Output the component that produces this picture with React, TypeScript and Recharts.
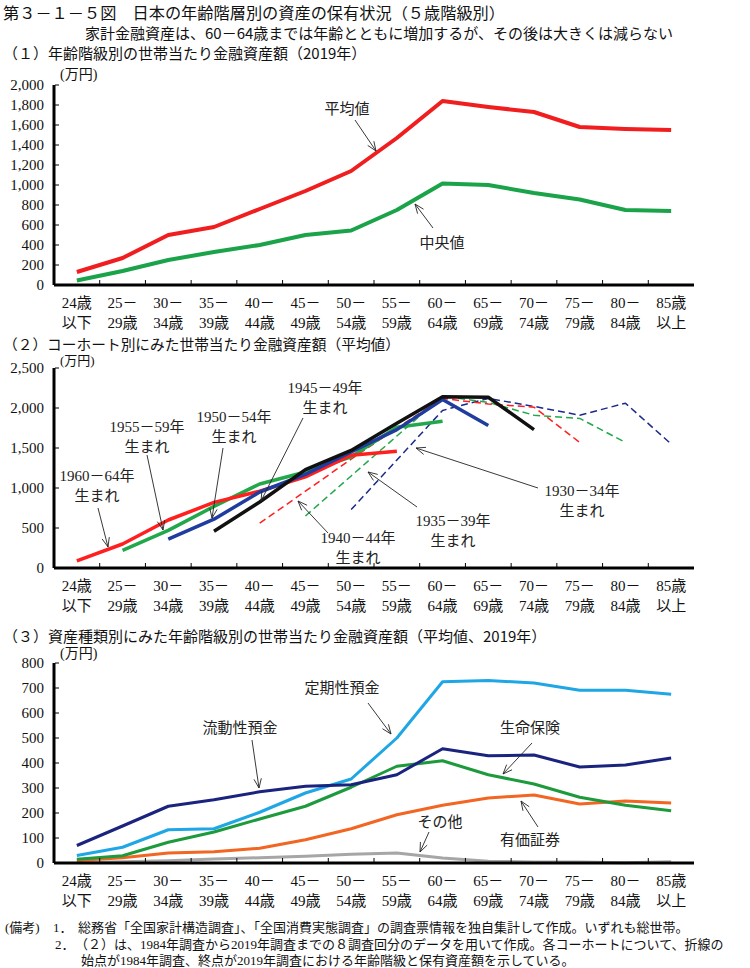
import React from 'react';
import { LineChart, Line, XAxis, YAxis } from 'recharts';

// ---------- categories ----------
const ageTop = ['24歳', '25－', '30－', '35－', '40－', '45－', '50－', '55－', '60－', '65－', '70－', '75－', '80－', '85歳'];
const ageBottom = ['以下', '29歳', '34歳', '39歳', '44歳', '49歳', '54歳', '59歳', '64歳', '69歳', '74歳', '79歳', '84歳', '以上'];

// ---------- (1) mean / median 2019 ----------
const meanAssets = [130, 270, 500, 580, 760, 940, 1140, 1470, 1840, 1780, 1730, 1580, 1560, 1550];
const medianAssets = [45, 140, 250, 330, 400, 500, 545, 750, 1015, 1000, 920, 855, 750, 740];
const ticks1 = [0, 200, 400, 600, 800, 1000, 1200, 1400, 1600, 1800, 2000];

// ---------- (2) cohorts ----------
const N = null;
const c1960 = [90, 300, 600, 820, 960, 1140, 1410, 1460, N, N, N, N, N, N];
const c1955 = [N, 220, 470, 770, 1050, 1200, 1390, 1760, 1835, N, N, N, N, N];
const c1950 = [N, N, 360, 610, 950, 1170, 1450, 1730, 2105, 1780, N, N, N, N];
const c1945 = [N, N, N, 460, 825, 1230, 1470, 1810, 2140, 2135, 1730, N, N, N];
const c1940 = [N, N, N, N, 560, 960, 1360, 1750, 2120, 2050, 2010, 1570, N, N];
const c1935 = [N, N, N, N, N, 650, 1150, 1650, 2150, 2070, 1910, 1870, 1570, N];
const c1930 = [N, N, N, N, N, N, 730, 1350, 1970, 2120, 2020, 1910, 2060, 1550];
const ticks2 = [0, 500, 1000, 1500, 2000, 2500];

// ---------- (3) by asset type ----------
const liquidDeposits = [70, 148, 227, 253, 285, 307, 313, 353, 457, 429, 432, 384, 392, 420];
const timeDeposits = [30, 63, 133, 137, 203, 280, 336, 500, 725, 730, 720, 691, 691, 675];
const lifeInsurance = [15, 29, 83, 124, 176, 227, 303, 387, 409, 353, 316, 263, 231, 209];
const securities = [10, 21, 40, 45, 59, 93, 137, 193, 231, 260, 272, 236, 248, 240];
const otherAssets = [2, 5, 9, 16, 21, 27, 35, 40, 20, 7, 4, 4, 1, 5];
const ticks3 = [0, 100, 200, 300, 400, 500, 600, 700, 800];

// ---------- layout ----------
const W = 750;
const PLOT_LEFT = 54;
const PLOT_RIGHT_MARGIN = 56;
const PLOT_W = W - PLOT_LEFT - PLOT_RIGHT_MARGIN;
const BAND = PLOT_W / 14;
const XAXIS_H = 55;
const TICK_MARGIN = 10;
const SERIF = "'Liberation Serif', 'DejaVu Serif', 'Noto Sans CJK JP', serif";
const GOTHIC = "'Noto Sans CJK JP', 'Noto Sans', sans-serif";

const fmt = (v: number) => v.toLocaleString('en-US');

function XTick(props: any) {
  const { x, y, payload } = props;
  const i = props.index ?? payload.index ?? 0;
  return (
    <g>
      {i > 0 && (
        <line x1={x - BAND / 2} x2={x - BAND / 2} y1={y - 1} y2={y - 5} stroke="#000" strokeWidth={1} />
      )}
      <text x={x} y={y + 23} textAnchor="middle" fontSize={15} fontFamily={SERIF} fill="#111">
        {ageTop[i]}
      </text>
      <text x={x} y={y + 43} textAnchor="middle" fontSize={15} fontFamily={SERIF} fill="#111">
        {ageBottom[i]}
      </text>
    </g>
  );
}

function YTick(props: any) {
  const { x, y, payload } = props;
  const axisX = x + TICK_MARGIN;
  return (
    <g>
      <line x1={axisX + 1} x2={axisX + 5} y1={y} y2={y} stroke="#000" strokeWidth={1} />
      <text x={x} y={y} dy={5} textAnchor="end" fontSize={15} fontFamily={SERIF} fill="#111">
        {fmt(payload.value)}
      </text>
    </g>
  );
}

type Series = { key: string; values: (number | null)[]; color: string; width: number; dash?: string };

function Panel({
  top,
  plotTop,
  plotBottom,
  series,
  ticks,
}: {
  top: number;
  plotTop: number;
  plotBottom: number;
  series: Series[];
  ticks: number[];
}) {
  const height = plotBottom + XAXIS_H - top;
  const data = ageTop.map((a, i) => {
    const row: any = { age: a + ageBottom[i] };
    series.forEach((s) => {
      row[s.key] = s.values[i];
    });
    return row;
  });
  const max = ticks[ticks.length - 1];
  return (
    <div style={{ position: 'absolute', left: 0, top, width: W, height }}>
      <LineChart
        width={W}
        height={height}
        data={data}
        margin={{ top: plotTop - top, right: PLOT_RIGHT_MARGIN, bottom: 0, left: 0 }}
      >
        <XAxis
          dataKey="age"
          interval={0}
          height={XAXIS_H}
          padding={{ left: BAND / 2, right: BAND / 2 }}
          axisLine={{ stroke: '#000', strokeWidth: 3 }}
          tickLine={false}
          tickSize={0}
          tickMargin={0}
          tick={<XTick />}
        />
        <XAxis
          xAxisId="top"
          dataKey="age"
          orientation="top"
          height={0}
          tick={false}
          tickLine={false}
          axisLine={{ stroke: '#000', strokeWidth: 3 }}
          padding={{ left: BAND / 2, right: BAND / 2 }}
        />
        <YAxis
          width={PLOT_LEFT}
          domain={[0, max]}
          ticks={ticks}
          interval={0}
          axisLine={{ stroke: '#000', strokeWidth: 3 }}
          tickLine={false}
          tickSize={0}
          tickMargin={TICK_MARGIN}
          tick={<YTick />}
        />
        <YAxis
          yAxisId="right"
          orientation="right"
          width={0}
          domain={[0, max]}
          tick={false}
          tickLine={false}
          axisLine={{ stroke: '#000', strokeWidth: 3 }}
        />
        {series.map((s) => (
          <Line
            key={s.key}
            dataKey={s.key}
            type="linear"
            stroke={s.color}
            strokeWidth={s.width}
            strokeDasharray={s.dash}
            dot={false}
            activeDot={false}
            isAnimationActive={false}
            strokeLinejoin="round"
          />
        ))}
      </LineChart>
    </div>
  );
}

function Arrow({ a }: { a: number[] }) {
  const [x1, y1, x2, y2] = a;
  const ang = Math.atan2(y2 - y1, x2 - x1);
  const L = 10;
  const s = 0.38;
  const p1 = `${x2 - L * Math.cos(ang - s)},${y2 - L * Math.sin(ang - s)}`;
  const p2 = `${x2 - L * Math.cos(ang + s)},${y2 - L * Math.sin(ang + s)}`;
  return (
    <g stroke="#222" strokeWidth={0.9} fill="none">
      <line x1={x1} y1={y1} x2={x2} y2={y2} />
      <polyline points={`${p1} ${x2},${y2} ${p2}`} />
    </g>
  );
}

type Note = { lines: string[]; x: number; y: number; arrow: number[] };

const notes1: Note[] = [
  { lines: ['平均値'], x: 347, y: 109, arrow: [355, 120, 376, 151] },
  { lines: ['中央値'], x: 442, y: 243, arrow: [433, 228, 415, 204] },
];
const notes2: Note[] = [
  { lines: ['1960－64年', '生まれ'], x: 97, y: 476, arrow: [98, 508, 108, 547] },
  { lines: ['1955－59年', '生まれ'], x: 147, y: 427, arrow: [147, 455, 163, 530] },
  { lines: ['1950－54年', '生まれ'], x: 234, y: 417, arrow: [223, 448, 212, 518] },
  { lines: ['1945－49年', '生まれ'], x: 325, y: 388, arrow: [303, 418, 261, 501] },
  { lines: ['1940－44年', '生まれ'], x: 358, y: 538, arrow: [328, 533, 298, 501] },
  { lines: ['1935－39年', '生まれ'], x: 453, y: 521, arrow: [417, 507, 368, 472] },
  { lines: ['1930－34年', '生まれ'], x: 582, y: 491, arrow: [538, 488, 416, 448] },
];
const notes3: Note[] = [
  { lines: ['流動性預金'], x: 240, y: 728, arrow: [252, 740, 259, 788] },
  { lines: ['定期性預金'], x: 342, y: 688, arrow: [368, 703, 391, 734] },
  { lines: ['生命保険'], x: 530, y: 728, arrow: [532, 743, 503, 774] },
  { lines: ['有価証券'], x: 530, y: 840, arrow: [538, 827, 521, 801] },
  { lines: ['その他'], x: 440, y: 822, arrow: [429, 832, 420, 852] },
];

function Annotations({ notes }: { notes: Note[] }) {
  return (
    <g>
      {notes.map((n, k) => (
        <g key={k}>
          {n.lines.map((t, j) => (
            <text
              key={j}
              x={n.x}
              y={n.y + j * 19.5}
              textAnchor="middle"
              dominantBaseline="central"
              fontSize={15}
              fontFamily={SERIF}
              fill="#222"
            >
              {t}
            </text>
          ))}
          <Arrow a={n.arrow} />
        </g>
      ))}
    </g>
  );
}

function T({ x, y, size, family, children, anchor, len }: any) {
  return (
    <text
      x={x}
      y={y}
      dominantBaseline="central"
      fontSize={size}
      fontFamily={family}
      textAnchor={anchor || 'start'}
      fill="#111"
      textLength={len}
      lengthAdjust={len ? 'spacingAndGlyphs' : undefined}
    >
      {children}
    </text>
  );
}

export default function App() {
  const s1: Series[] = [
    { key: 'median', values: medianAssets, color: '#1ba34a', width: 4 },
    { key: 'mean', values: meanAssets, color: '#f01e1e', width: 4 },
  ];
  const s2: Series[] = [
    { key: 'c1930', values: c1930, color: '#1a2a8a', width: 1.5, dash: '7 4' },
    { key: 'c1935', values: c1935, color: '#22a84a', width: 1.5, dash: '7 4' },
    { key: 'c1940', values: c1940, color: '#ff1f1f', width: 1.5, dash: '7 4' },
    { key: 'c1955', values: c1955, color: '#22a84a', width: 3.5 },
    { key: 'c1960', values: c1960, color: '#ff1f1f', width: 3.5 },
    { key: 'c1950', values: c1950, color: '#1f3c9e', width: 3.5 },
    { key: 'c1945', values: c1945, color: '#111111', width: 3.5 },
  ];
  const s3: Series[] = [
    { key: 'other', values: otherAssets, color: '#a6a6a6', width: 3 },
    { key: 'securities', values: securities, color: '#f26522', width: 3 },
    { key: 'life', values: lifeInsurance, color: '#1d9a3c', width: 3 },
    { key: 'time', values: timeDeposits, color: '#1ea7e4', width: 3 },
    { key: 'liquid', values: liquidDeposits, color: '#1a237e', width: 3 },
  ];

  return (
    <div style={{ position: 'absolute', left: 0, top: 0, width: W, height: 968, background: '#fff', overflow: 'hidden' }}>
      <Panel top={0} plotTop={85} plotBottom={285} series={s1} ticks={ticks1} />
      <Panel top={340} plotTop={368} plotBottom={568} series={s2} ticks={ticks2} />
      <Panel top={623} plotTop={663} plotBottom={863} series={s3} ticks={ticks3} />
      <svg
        width={W}
        height={968}
        style={{ position: 'absolute', left: 0, top: 0, pointerEvents: 'none' }}
      >
        <T x={3} y={12} size={15.5} family={GOTHIC} len={502}>第３－１－５図　日本の年齢階層別の資産の保有状況（５歳階級別）</T>
        <T x={85} y={32} size={15} family={GOTHIC}>家計金融資産は、60－64歳までは年齢とともに増加するが、その後は大きくは減らない</T>
        <T x={3} y={52} size={15} family={GOTHIC}>（１）年齢階級別の世帯当たり金融資産額（2019年）</T>
        <T x={60} y={74} size={14} family={SERIF}>(万円)</T>

        <T x={3} y={343} size={14.5} family={GOTHIC} len={397}>（２）コーホート別にみた世帯当たり金融資産額（平均値）</T>
        <T x={60} y={360} size={13} family={SERIF}>(万円)</T>

        <T x={3} y={635} size={15} family={GOTHIC}>（３）資産種類別にみた年齢階級別の世帯当たり金融資産額（平均値、2019年）</T>
        <T x={60} y={653} size={14} family={SERIF}>(万円)</T>

        <Annotations notes={notes1} />
        <Annotations notes={notes2} />
        <Annotations notes={notes3} />

        <T x={5} y={927} size={13} family={SERIF}>(備考)</T>
        <T x={53} y={927} size={13} family={SERIF}>1．</T>
        <T x={78} y={927} size={13} family={SERIF}>総務省「全国家計構造調査」、「全国消費実態調査」の調査票情報を独自集計して作成。いずれも総世帯。</T>
        <T x={55} y={944} size={13} family={SERIF}>2．</T>
        <T x={75} y={944} size={13} family={SERIF}>（２）は、1984年調査から2019年調査までの８調査回分のデータを用いて作成。各コーホートについて、折線の</T>
        <T x={81} y={960} size={13} family={SERIF}>始点が1984年調査、終点が2019年調査における年齢階級と保有資産額を示している。</T>
      </svg>
    </div>
  );
}
